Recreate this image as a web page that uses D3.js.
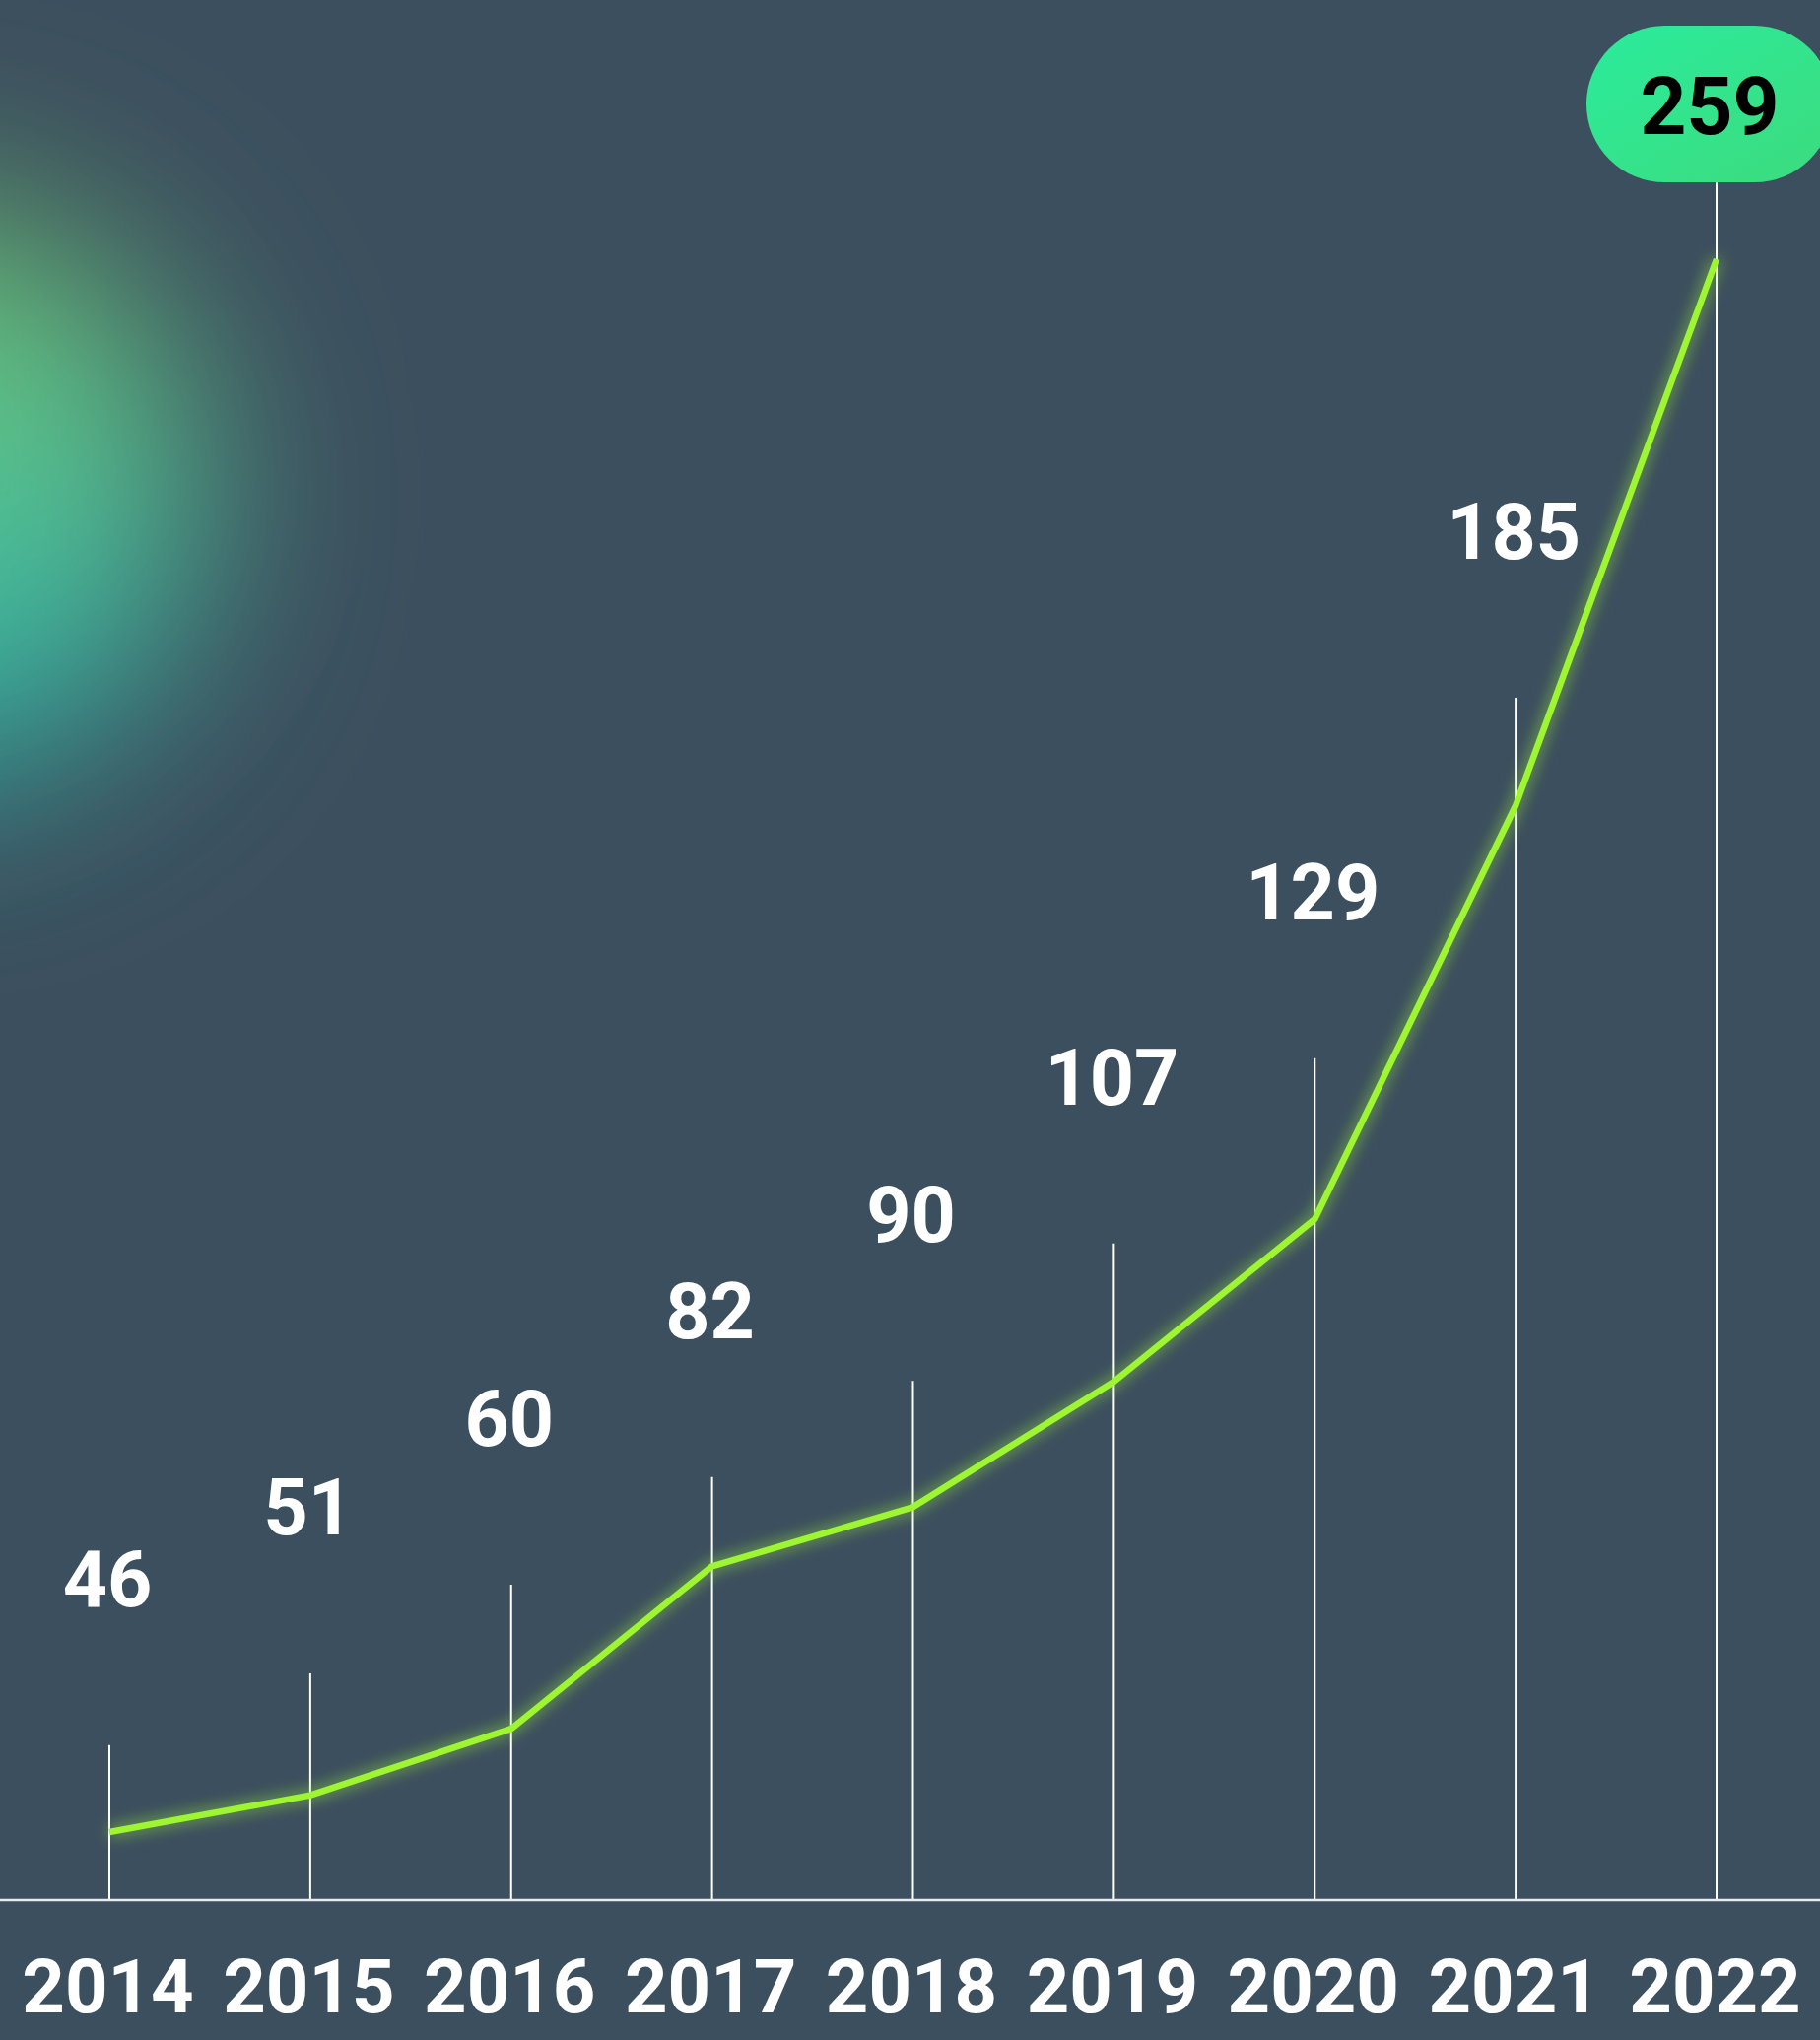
<!DOCTYPE html>
<html>
<head>
<meta charset="utf-8">
<script src="https://cdn.jsdelivr.net/npm/d3@7"></script>
<style>
  html, body { margin: 0; padding: 0; background: #3c4f5e; overflow: hidden; }
  svg { display: block; }
</style>
</head>
<body>
<svg id="chart"></svg>
<script>
var years = ["2014", "2015", "2016", "2017", "2018", "2019", "2020", "2021", "2022"];
var values = [46, 51, 60, 82, 90, 107, 129, 185, 259];
// height of the thin white guide above each year, in the same units as values
var stemTop = [57.8, 67.5, 79.5, 94.1, 107.1, 125.7, 150.8, 199.6, 269.4];

var W = 1847, H = 2070;
var baseY = 1928;
var labelGap = 141;   // from top of a stem to the baseline of its label
var lime = "#9ef533";

var svg = d3.select("#chart").attr("width", W).attr("height", H);
var defs = svg.append("defs");

// soft green blob on the left
var glowGrad = defs.append("linearGradient").attr("id", "blobGrad")
  .attr("x1", 0).attr("y1", 0).attr("x2", 0).attr("y2", 1);
glowGrad.append("stop").attr("offset", "0%").attr("stop-color", "#74c46a");
glowGrad.append("stop").attr("offset", "50%").attr("stop-color", "#50c094");
glowGrad.append("stop").attr("offset", "100%").attr("stop-color", "#25aaa8");

defs.append("filter").attr("id", "blobBlur")
  .attr("x", "-100%").attr("y", "-100%").attr("width", "300%").attr("height", "300%")
  .append("feGaussianBlur").attr("stdDeviation", 100);

var lineGlow = defs.append("filter").attr("id", "lineGlow")
  .attr("x", "-20%").attr("y", "-20%").attr("width", "140%").attr("height", "140%");
lineGlow.append("feGaussianBlur").attr("in", "SourceGraphic").attr("stdDeviation", 8).attr("result", "b");
lineGlow.append("feComponentTransfer").attr("in", "b").attr("result", "b2")
  .append("feFuncA").attr("type", "linear").attr("slope", 0.85);
var merge = lineGlow.append("feMerge");
merge.append("feMergeNode").attr("in", "b2");
merge.append("feMergeNode").attr("in", "SourceGraphic");

var badgeGrad = defs.append("linearGradient").attr("id", "badgeGrad")
  .attr("x1", 0).attr("y1", 0).attr("x2", 1).attr("y2", 1);
badgeGrad.append("stop").attr("offset", "0%").attr("stop-color", "#2aec9c");
badgeGrad.append("stop").attr("offset", "100%").attr("stop-color", "#3ddb7d");

svg.append("rect").attr("width", W).attr("height", H).attr("fill", "#3c4f5e");

svg.append("circle")
  .attr("cx", -90).attr("cy", 505).attr("r", 295)
  .attr("fill", "url(#blobGrad)")
  .attr("filter", "url(#blobBlur)");

var x = d3.scalePoint().domain(years).range([111, 1742]);
var y = d3.scaleLinear().domain([36.8, 259]).range([baseY, 263]);

var data = years.map(function(d, i){
  return { year: d, value: values[i], stem: stemTop[i] };
});

// stems
svg.append("g").selectAll("line").data(data).enter().append("line")
  .attr("x1", function(d){ return x(d.year); })
  .attr("x2", function(d){ return x(d.year); })
  .attr("y1", baseY)
  .attr("y2", function(d){ return y(d.stem); })
  .attr("stroke", "#ffffff")
  .attr("stroke-width", 2);

// base line
svg.append("line")
  .attr("x1", 0).attr("x2", W).attr("y1", baseY).attr("y2", baseY)
  .attr("stroke", "#e6eaee").attr("stroke-width", 2.5);

// the series
var line = d3.line()
  .x(function(d){ return x(d.year); })
  .y(function(d){ return y(d.value); });

svg.append("path").datum(data)
  .attr("d", line)
  .attr("fill", "none")
  .attr("stroke", lime)
  .attr("stroke-width", 6.5)
  .attr("stroke-linejoin", "round")
  .attr("filter", "url(#lineGlow)");

// value labels (last one goes in the badge)
var last = data[data.length - 1];
svg.append("g").selectAll("text").data(data.slice(0, -1)).enter().append("text")
  .attr("x", function(d){ return x(d.year) - 2; })
  .attr("y", function(d){ return y(d.stem) - labelGap; })
  .attr("text-anchor", "middle")
  .attr("fill", "#ffffff")
  .style("font-family", "Roboto, sans-serif")
  .style("font-weight", 700)
  .style("font-size", "79px")
  .text(function(d){ return d.value; });

var badgeH = 159, badgeW = 250;
var badgeBottom = y(last.stem);
var badge = svg.append("g");
badge.append("rect")
  .attr("x", x(last.year) - 132)
  .attr("y", badgeBottom - badgeH)
  .attr("width", badgeW).attr("height", badgeH)
  .attr("rx", badgeH / 2).attr("ry", badgeH / 2)
  .attr("fill", "url(#badgeGrad)");
badge.append("text")
  .attr("x", x(last.year) - 132 + badgeW / 2)
  .attr("y", badgeBottom - 49)
  .attr("text-anchor", "middle")
  .attr("fill", "#000000")
  .style("font-family", "Roboto, sans-serif")
  .style("font-weight", 700)
  .style("font-size", "82px")
  .text(last.value);

// year labels
var xAxis = d3.axisBottom(x).tickSize(0).tickPadding(60);
var ax = svg.append("g").attr("transform", "translate(0," + baseY + ")").call(xAxis);
ax.select(".domain").remove();
ax.selectAll("text")
  .attr("fill", "#ffffff")
  .attr("dx", -2)
  .style("font-family", "Roboto, sans-serif")
  .style("font-weight", 700)
  .style("font-size", "76px");
</script>
</body>
</html>
